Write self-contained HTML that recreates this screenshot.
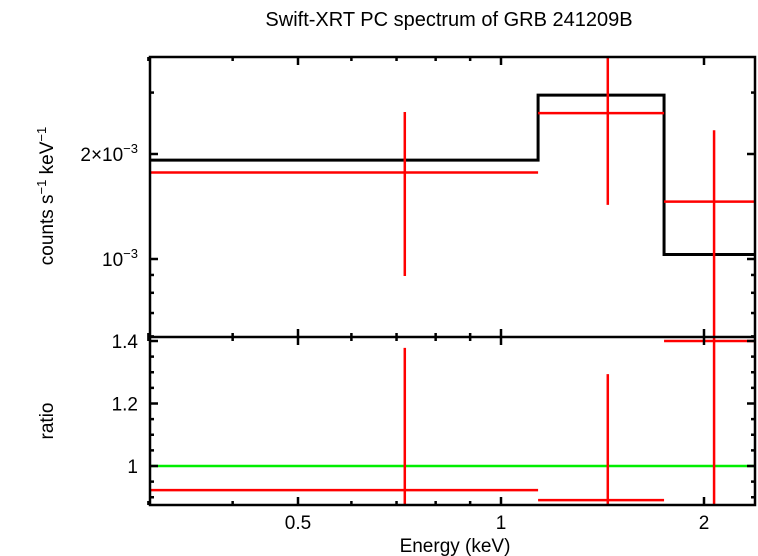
<!DOCTYPE html>
<html><head><meta charset="utf-8"><style>
body{margin:0;background:#fff;}
svg{display:block;font-family:"Liberation Sans",sans-serif;}
</style></head><body>
<svg id="chart" width="758" height="556" viewBox="0 0 758 556"></svg>
<script>
const binLo=[0.3,1.135,1.745];
const binHi=[1.135,1.745,2.4];
const binCenter=[0.72,1.44,2.07];
const modelVals=[1.92e-3,2.95e-3,1.03e-3];
const dataVals=[1.77e-3,2.62e-3,1.46e-3];
const dataErrLo=[0.894e-3,1.43e-3,0.5e-3];
const dataErrHi=[2.64e-3,4.0e-3,2.34e-3];
const ratioVals=[0.923,0.891,1.4];
const ratioErrLo=[0.85,0.85,0.85];
const ratioErrHi=[1.378,1.294,1.5];
const xTickLabels=["0.5","1","2"];
const xTickVals=[0.5,1,2];
const xMinor=[0.3,0.4,0.6,0.7,0.8,0.9];
const yMajorTop=[1e-3,2e-3];
const yMinorTop=[6e-4,7e-4,8e-4,9e-4,3e-3];
const rMajor=[1,1.2,1.4];
const rLabels=["1","1.2","1.4"];
const rMinor=[0.9,0.95,1.05,1.1,1.15,1.25,1.3,1.35];

const L=150,R=755,T=57,M=337,B=505;
const X=e=>501+203*Math.log2(e);
const YT=v=>259-105*Math.log2(v/1e-3);
const YR=v=>466-312.5*(v-1);
const NS="http://www.w3.org/2000/svg";
const svg=document.getElementById('chart');
function el(tag,attrs,parent){const e=document.createElementNS(NS,tag);for(const k in attrs)e.setAttribute(k,attrs[k]);(parent||svg).appendChild(e);return e;}
const defs=el('defs',{});
const c1=el('clipPath',{id:'ct'},defs);el('rect',{x:L,y:T,width:R-L,height:M-T},c1);
const c2=el('clipPath',{id:'cb'},defs);el('rect',{x:L,y:M,width:R-L,height:B-M},c2);
const gt=el('g',{'clip-path':'url(#ct)'});


const gb=el('g',{'clip-path':'url(#cb)'});



let d='';
for(let i=0;i<binLo.length;i++){d+=(i?'L':'M')+X(binLo[i])+' '+YT(modelVals[i])+'L'+X(binHi[i])+' '+YT(modelVals[i]);}
const mp=el('path',{d:d,fill:'none',stroke:'#000','stroke-width':3},gt);


for(let i=0;i<binLo.length;i++){
 const g=el('g',{stroke:'#f00','stroke-width':2.5},gt);
 
 
 el('line',{x1:X(binLo[i]),x2:X(binHi[i]),y1:YT(dataVals[i]),y2:YT(dataVals[i])},g);
 el('line',{x1:X(binCenter[i]),x2:X(binCenter[i]),y1:YT(dataErrLo[i]),y2:YT(dataErrHi[i])},g);
}
const gl=el('line',{x1:L,x2:R,y1:YR(1),y2:YR(1),stroke:'#0e0','stroke-width':2.5},gb);


for(let i=0;i<binLo.length;i++){
 const g=el('g',{stroke:'#f00','stroke-width':2.5},gb);
 
 
 el('line',{x1:X(binLo[i]),x2:X(binHi[i]),y1:YR(ratioVals[i]),y2:YR(ratioVals[i])},g);
 el('line',{x1:X(binCenter[i]),x2:X(binCenter[i]),y1:YR(ratioErrLo[i]),y2:YR(ratioErrHi[i])},g);
}
const ax=el('g',{stroke:'#000','stroke-width':2.5,fill:'none'});


el('rect',{x:L,y:T,width:R-L,height:B-T},ax);
el('line',{x1:L,x2:R,y1:M,y2:M},ax);
function xt(e,len){const x=X(e);[[T,T+len],[M,M-len],[M,M+len],[B,B-len]].forEach(p=>el('line',{x1:x,x2:x,y1:p[0],y2:p[1]},ax));}
xTickVals.forEach(e=>xt(e,8));xMinor.forEach(e=>xt(e,4));
yMajorTop.forEach(v=>{const y=YT(v);el('line',{x1:L,x2:L+8,y1:y,y2:y},ax);el('line',{x1:R,x2:R-8,y1:y,y2:y},ax);});
yMinorTop.forEach(v=>{const y=YT(v);el('line',{x1:L,x2:L+4,y1:y,y2:y},ax);el('line',{x1:R,x2:R-4,y1:y,y2:y},ax);});
rMajor.forEach(v=>{const y=YR(v);el('line',{x1:L,x2:L+8,y1:y,y2:y},ax);el('line',{x1:R,x2:R-8,y1:y,y2:y},ax);});
rMinor.forEach(v=>{const y=YR(v);el('line',{x1:L,x2:L+4,y1:y,y2:y},ax);el('line',{x1:R,x2:R-4,y1:y,y2:y},ax);});
xTickVals.forEach((e,i)=>{const t=el('text',{x:X(e),y:529,'text-anchor':'middle','font-size':19});t.textContent=xTickLabels[i];

});
rMajor.forEach((v,i)=>{const t=el('text',{x:138,y:YR(v)+7,'text-anchor':'end','font-size':19});t.textContent=rLabels[i];

});
</script>
<svg style="position:absolute;left:0;top:0" width="758" height="556" font-family="Liberation Sans, sans-serif">
<text x="449" y="26" text-anchor="middle" font-size="20">Swift-XRT PC spectrum of GRB 241209B</text>
<text x="138" y="161" text-anchor="end" font-size="19">2×10<tspan font-size="13" dy="-8">−3</tspan></text>
<text x="138" y="266" text-anchor="end" font-size="19">10<tspan font-size="13" dy="-8">−3</tspan></text>
<text transform="translate(53,196) rotate(-90)" text-anchor="middle" font-size="19">counts s<tspan font-size="13" dy="-7">−1</tspan><tspan dy="7"> keV</tspan><tspan font-size="13" dy="-7">−1</tspan></text>
<text transform="translate(53,421) rotate(-90)" text-anchor="middle" font-size="19">ratio</text>
<text x="455" y="552" text-anchor="middle" font-size="19">Energy (keV)</text>
</svg>
</body></html>
